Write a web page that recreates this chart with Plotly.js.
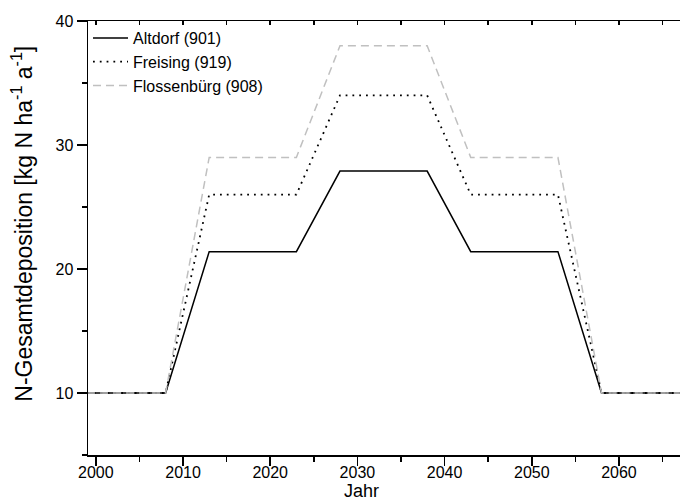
<!DOCTYPE html>
<html>
<head>
<meta charset="utf-8">
<script src="https://cdn.plot.ly/plotly-3.0.1.min.js"></script>
<style>html,body{margin:0;padding:0;background:#fff;}#chart{width:680px;height:503px;}</style>
</head>
<body>
<div id="chart"></div>
<script>
const years = [1999, 2008, 2013, 2023, 2028, 2038, 2043, 2053, 2058, 2067];
const altdorf = [10, 10, 21.4, 21.4, 27.9, 27.9, 21.4, 21.4, 10, 10];
const freising = [10, 10, 26, 26, 34, 34, 26, 26, 10, 10];
const flossenbuerg = [10, 10, 29, 29, 38, 38, 29, 29, 10, 10];
const seriesNames = ['Altdorf (901)', 'Freising (919)', 'Flossenbürg (908)'];
const xTicks = [2000, 2010, 2020, 2030, 2040, 2050, 2060];
const yTicks = [10, 20, 30, 40];

const FONT = 'Arial, "Liberation Sans", sans-serif';

const traces = [
  {x: years, y: altdorf, name: seriesNames[0], mode: 'lines', line: {color: '#000', width: 1.5}},
  {x: years, y: freising, name: seriesNames[1], mode: 'lines', line: {color: '#000', width: 1.8, dash: '1.8px,5px'}},
  {x: years, y: flossenbuerg, name: seriesNames[2], mode: 'lines', line: {color: '#c0c0c0', width: 1.5, dash: '8px,5px'}},
  {x: [years[0]], y: [null], xaxis: 'x2', yaxis: 'y', showlegend: false, hoverinfo: 'skip'}
];

const layout = {
  width: 680, height: 503,
  margin: {l: 88, r: 0, t: 21, b: 48},
  paper_bgcolor: '#fff', plot_bgcolor: '#fff',
  font: {family: FONT, size: 16, color: '#000'},
  showlegend: true,
  legend: {x: 0.0, y: 1.0, xanchor: 'left', yanchor: 'top', bgcolor: 'rgba(0,0,0,0)', itemwidth: 35,
           font: {family: FONT, size: 16, color: '#000'}, borderwidth: 0, tracegroupgap: 0},
  xaxis: {
    range: [1999.1, 2067], tickvals: xTicks, ticktext: xTicks.map(String),
    ticks: 'outside', ticklen: 9, tickwidth: 1.5, tickcolor: '#000', ticklabelstandoff: -7,
    minor: {dtick: 5, tick0: 2000, ticks: 'outside', ticklen: 5, tickwidth: 1.5, tickcolor: '#000'},
    showline: true, linecolor: '#000', linewidth: 1.5, showgrid: false, zeroline: false,
    tickfont: {family: FONT, size: 16, color: '#000'}
  },
  xaxis2: {
    overlaying: 'x', side: 'top', matches: 'x', range: [1999.1, 2067],
    tick0: 2000, dtick: 5, ticks: 'inside', ticklen: 4, tickwidth: 1.5, tickcolor: '#000',
    showticklabels: false, showline: true, linecolor: '#000', linewidth: 1.5, showgrid: false, zeroline: false
  },
  yaxis: {
    range: [5, 40], tickvals: yTicks, ticktext: yTicks.map(String),
    ticks: 'outside', ticklen: 10, tickwidth: 1.5, tickcolor: '#000',
    minor: {dtick: 5, tick0: 5, ticks: 'outside', ticklen: 5, tickwidth: 1.5, tickcolor: '#000'},
    showline: true, linecolor: '#000', linewidth: 1.5, showgrid: false, zeroline: false,
    tickfont: {family: FONT, size: 16, color: '#000'}
  },
  annotations: [
    {text: 'Jahr', xref: 'paper', yref: 'paper', x: 0.4628, y: -0.083, xanchor: 'center', yanchor: 'middle',
     showarrow: false, font: {family: FONT, size: 18, color: '#000'}},
    {text: 'N-Gesamtdeposition [kg N ha<sup>-1</sup> a<sup>-1</sup>]', xref: 'paper', yref: 'paper',
     x: -0.1115, y: 0.533, xanchor: 'center', yanchor: 'middle', textangle: -90,
     showarrow: false, font: {family: FONT, size: 23, color: '#000'}}
  ]
};

Plotly.newPlot('chart', traces, layout, {displayModeBar: false, staticPlot: true});
</script>
</body>
</html>
